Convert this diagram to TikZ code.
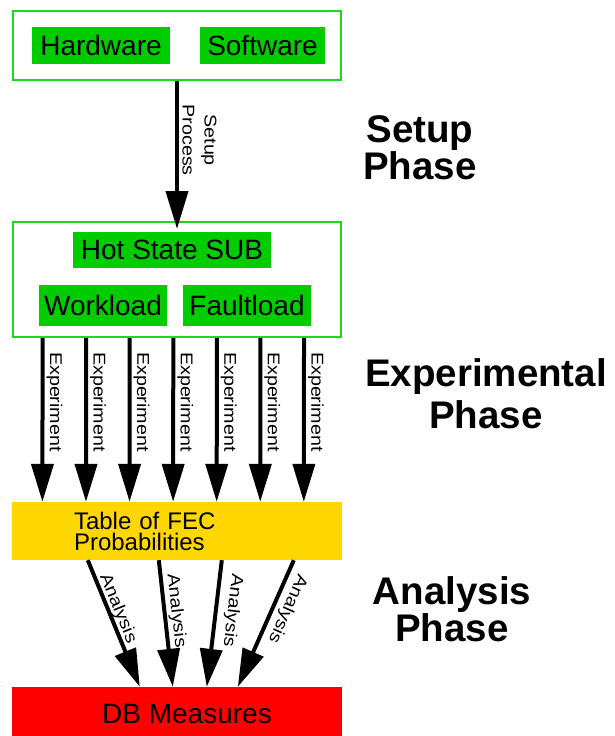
\documentclass[tikz,border=0pt]{standalone}
\usepackage{fontspec}
\setmainfont{Liberation Sans}
\newfontfamily\edgefont[FakeStretch=1.16]{Liberation Sans}
\usetikzlibrary{arrows.meta}
\definecolor{boxgreen}{RGB}{0,204,0}
\definecolor{framegreen}{RGB}{30,215,30}
\definecolor{tablegold}{RGB}{255,215,0}
\definecolor{dbred}{RGB}{255,0,0}
\tikzset{
  groupbox/.style={draw=framegreen, line width=2pt, fill=white, minimum width=328pt, inner sep=0pt},
  partbox/.style={fill=boxgreen, inner sep=0pt, font=\fontsize{28}{30}\selectfont},
  flowarrow/.style={line width=4pt, -{Triangle[width=22pt,length=38pt]}},
  edgelabel/.style={font=\edgefont\fontsize{17}{22}\selectfont, sloped, allow upside down, anchor=south, inner sep=0pt},
  phaselabel/.style={font=\fontsize{38.5}{37}\selectfont\bfseries, align=center, inner sep=0pt},
}
\begin{document}
\begin{tikzpicture}[x=1pt, y=-1pt]
\useasboundingbox (0,0) rectangle (615,736);

% setup inputs
\node[groupbox, minimum height=69pt] (top) at (177,45.5) {};
\node[partbox, minimum width=138pt, minimum height=37pt] (hw) at (101,45.5) {Hardware};
\node[partbox, minimum width=125pt, minimum height=37pt] (sw) at (262.5,45.5) {Software};

% system under benchmark
\node[groupbox, minimum height=115pt] (mid) at (177,279.5) {};
\node[partbox, minimum width=198pt, minimum height=36pt] (hot) at (172,250) {Hot State SUB};
\node[partbox, minimum width=128pt, minimum height=41pt] (wl) at (103,305.5) {Workload};
\node[partbox, minimum width=128pt, minimum height=41pt] (fl) at (247,305.5) {Faultload};

% results
\node[fill=tablegold, minimum width=330pt, minimum height=58pt, text width=206pt,
      inner xsep=62pt, inner ysep=0pt, align=left, font=\fontsize{24}{21}\selectfont]
      (table) at (177,531) {Table of FEC\\Probabilities};
\node[fill=dbred, minimum width=330pt, minimum height=54pt, inner sep=0pt,
      font=\fontsize{28}{30}\selectfont] (db) at (177,714) {\hspace*{20pt}DB Measures};

% setup process
\draw[flowarrow] (top.south) -- node[edgelabel, pos=0.40, outer sep=5.5pt, align=center] {Setup\\Process} ([yshift=-8pt]mid.north);

% experiments
\foreach \i in {0,...,6} {
  \pgfmathsetlengthmacro\dx{30.6pt + \i*43.57pt}
  \draw[flowarrow] ([xshift=\dx]mid.south west) -- node[edgelabel, pos=0.39, outer sep=4pt] {Experiment} ([xshift=\dx]table.north west);
}

% analysis
\draw[flowarrow] ([xshift=76pt]table.south west) -- node[edgelabel, pos=0.41, outer sep=1.5pt] {Analysis} ([xshift=128pt]db.north west);
\draw[flowarrow] ([xshift=147pt]table.south west) -- node[edgelabel, pos=0.41, outer sep=3.6pt] {Analysis} ([xshift=161pt]db.north west);
\draw[flowarrow] ([xshift=210pt]table.south west) -- node[edgelabel, pos=0.38, outer sep=8.4pt] {Analysis} ([xshift=195pt]db.north west);
\draw[flowarrow] ([xshift=282pt]table.south west) -- node[edgelabel, pos=0.34, outer sep=6pt] {Analysis} ([xshift=226pt]db.north west);

% phase captions
\node[phaselabel] (setupphase) at (420,147.8) {Setup\\Phase};
\node[phaselabel, font=\fontsize{38.5}{41.6}\selectfont\bfseries] (expphase) at (486,393.9) {Experimental\\Phase};
\node[phaselabel, font=\fontsize{38.5}{37.7}\selectfont\bfseries] (anaphase) at (452,609.2) {Analysis\\Phase};
\end{tikzpicture}
\end{document}
